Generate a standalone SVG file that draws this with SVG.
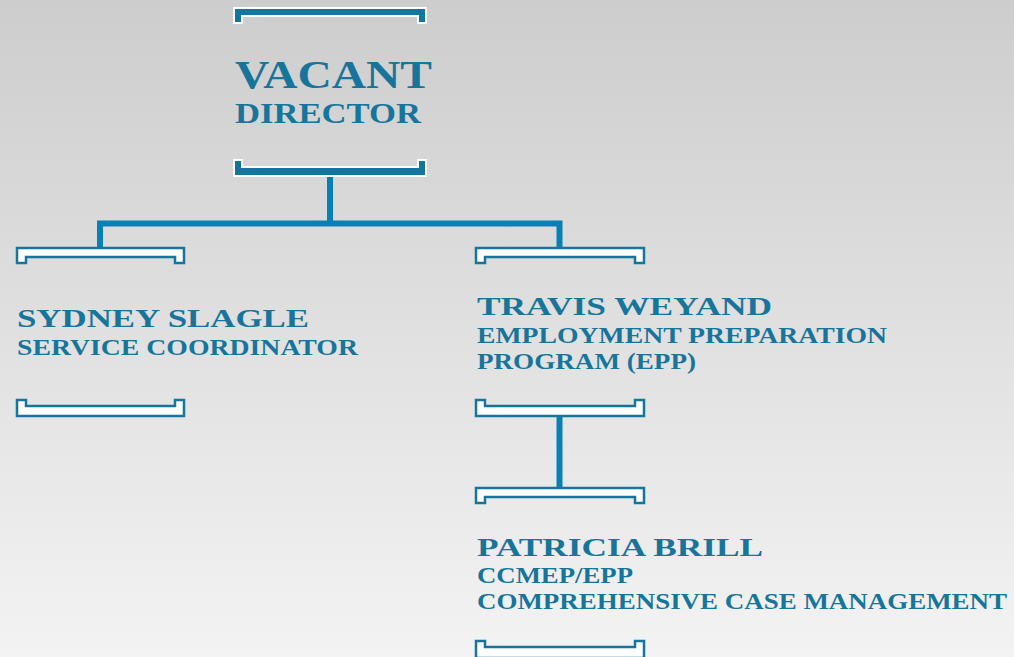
<svg xmlns="http://www.w3.org/2000/svg" width="1014" height="657" viewBox="0 0 1014 657">
<defs>
<linearGradient id="bg" x1="0" y1="0" x2="0" y2="1">
<stop offset="0" stop-color="#cdcdcd"/>
<stop offset="1" stop-color="#f3f3f3"/>
</linearGradient>
<style>
.t{font-family:"Liberation Serif","Times New Roman",serif;font-weight:bold;fill:#17759b}
.bf{fill:#14769c;stroke:#ffffff;stroke-width:2}
.bo{fill:#ffffff;stroke:#17759b;stroke-width:2.5}
.c{fill:none;stroke:#0880b6;stroke-width:6}
</style>
</defs>
<rect width="1014" height="657" fill="url(#bg)"/>
<g id="connectors">
<path class="c" d="M330,176 V223.5"/>
<path class="c" d="M100,248 V223.5 H559.5 V248"/>
<path class="c" d="M559.5,416 V488"/>
</g>
<g id="director">
<path class="bf" d="M234,8 H426 V23 H418 V16 H242 V23 H234 Z"/>
<text class="t" x="235" y="88" font-size="39" textLength="197" lengthAdjust="spacingAndGlyphs">VACANT</text>
<text class="t" x="235" y="123" font-size="29" textLength="186" lengthAdjust="spacingAndGlyphs">DIRECTOR</text>
<path class="bf" d="M234,160 H242 V167 H418 V160 H426 V176 H234 Z"/>
</g>
<g id="sydney">
<path class="bo" d="M17,248 H184 V263 H175 V257 H26 V263 H17 Z"/>
<text class="t" x="17" y="327" font-size="26" textLength="292" lengthAdjust="spacingAndGlyphs">SYDNEY SLAGLE</text>
<text class="t" x="17" y="355" font-size="23" textLength="341" lengthAdjust="spacingAndGlyphs">SERVICE COORDINATOR</text>
<path class="bo" d="M17,400 H26 V406 H175 V400 H184 V416 H17 Z"/>
</g>
<g id="travis">
<path class="bo" d="M476,248 H644 V263 H635 V257 H485 V263 H476 Z"/>
<text class="t" x="477" y="315" font-size="26" textLength="295" lengthAdjust="spacingAndGlyphs">TRAVIS WEYAND</text>
<text class="t" x="477" y="343" font-size="23" textLength="410" lengthAdjust="spacingAndGlyphs">EMPLOYMENT PREPARATION</text>
<text class="t" x="477" y="369" font-size="23" textLength="219" lengthAdjust="spacingAndGlyphs">PROGRAM (EPP)</text>
<path class="bo" d="M476,400 H485 V406 H635 V400 H644 V416 H476 Z"/>
</g>
<g id="patricia">
<path class="bo" d="M476,488 H644 V503 H635 V497 H485 V503 H476 Z"/>
<text class="t" x="477" y="556" font-size="26" textLength="286" lengthAdjust="spacingAndGlyphs">PATRICIA BRILL</text>
<text class="t" x="477" y="583" font-size="23" textLength="156" lengthAdjust="spacingAndGlyphs">CCMEP/EPP</text>
<text class="t" x="477" y="609" font-size="23" textLength="530" lengthAdjust="spacingAndGlyphs">COMPREHENSIVE CASE MANAGEMENT</text>
<path class="bo" d="M476,641 H485 V647 H635 V641 H644 V658 H476 Z"/>
</g>
</svg>
